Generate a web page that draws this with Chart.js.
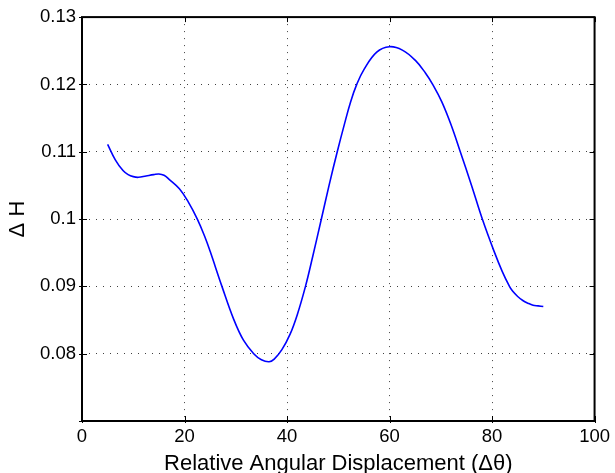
<!DOCTYPE html>
<html>
<head>
<meta charset="utf-8">
<script src="https://cdn.jsdelivr.net/npm/chart.js@4"></script>
<style>
  html, body { margin: 0; padding: 0; background: #fff; }
  #wrap { width: 615px; height: 473px; }
</style>
</head>
<body>
<div id="wrap"><canvas id="plot"></canvas></div>
<script>
// values
const angles = [5, 6.5, 8, 9, 10, 11, 12.5, 14, 15, 16, 17, 19, 20.7, 22.5, 24, 25, 27.3, 29.6, 31.5, 33.5, 35, 36.5, 37.5, 39, 40.6, 42, 43.6, 45, 46.7, 48.2, 49.8, 51.2, 52.4, 53.6, 55, 57.5, 60, 62.5, 65, 67, 68.5, 70.2, 72, 73.8, 76, 78.1, 80.4, 82, 83.4, 84, 85, 86, 87, 88, 89, 90];
const deltaH = [0.1111, 0.1088, 0.1072, 0.1066, 0.1063, 0.1062, 0.1064, 0.1066, 0.1067, 0.1065, 0.1059, 0.1045, 0.1026, 0.1000, 0.0973, 0.0952, 0.0900, 0.0851, 0.0820, 0.0800, 0.0791, 0.0788, 0.0792, 0.0806, 0.0829, 0.0858, 0.0900, 0.0944, 0.1000, 0.1050, 0.1100, 0.1141, 0.1174, 0.1200, 0.1222, 0.1248, 0.1256, 0.1251, 0.1236, 0.1217, 0.1199, 0.1174, 0.1140, 0.1100, 0.1050, 0.1000, 0.0952, 0.0922, 0.0900, 0.0893, 0.0885, 0.0879, 0.0875, 0.0872, 0.0871, 0.0870];
const xTicks = [0, 20, 40, 60, 80, 100];
const yTicks = [0.07, 0.08, 0.09, 0.1, 0.11, 0.12, 0.13];

const tickFont = { family: 'Liberation Sans, Arial, sans-serif', size: 18.5 };
const gridColor = 'rgba(0,0,0,0.75)';
const isEdge = (v, lo, hi) => Math.abs(v - lo) < 1e-6 || Math.abs(v - hi) < 1e-6;

// black box round the plot plus the short tick marks on every side
const boxPlugin = {
  id: 'box',
  afterDraw(chart) {
    const { ctx, chartArea: a, scales } = chart;
    ctx.save();
    ctx.strokeStyle = '#000';
    ctx.lineWidth = 1;
    ctx.beginPath();
    xTicks.forEach(v => {
      const x = Math.round(scales.x.getPixelForValue(v)) + 0.5;
      ctx.moveTo(x, a.bottom + 2); ctx.lineTo(x, a.bottom - 5);
      ctx.moveTo(x, a.top); ctx.lineTo(x, a.top + 5);
    });
    yTicks.forEach(v => {
      const y = Math.round(scales.y.getPixelForValue(v)) + 0.5;
      ctx.moveTo(a.left - 3, y); ctx.lineTo(a.left + 5, y);
      ctx.moveTo(a.right, y); ctx.lineTo(a.right - 5, y);
    });
    ctx.stroke();
    ctx.lineWidth = 2;
    ctx.strokeRect(a.left, a.top, a.right - a.left, a.bottom - a.top);
    ctx.restore();
  }
};

new Chart(document.getElementById('plot'), {
  type: 'line',
  data: {
    datasets: [{
      data: angles.map((a, i) => ({ x: a, y: deltaH[i] })),
      borderColor: '#0000ff',
      borderWidth: 1.6,
      pointRadius: 0,
      tension: 0.4,
      fill: false
    }]
  },
  options: {
    responsive: true,
    maintainAspectRatio: false,
    animation: false,
    layout: { padding: { top: 15, right: 16, left: 0, bottom: 0 } },
    plugins: { legend: { display: false }, tooltip: { enabled: false } },
    scales: {
      x: {
        type: 'linear',
        min: 0,
        max: 100,
        afterFit(scale) { scale.height = 52; },
        afterBuildTicks(scale) { scale.ticks = xTicks.map(v => ({ value: v })); },
        ticks: { color: '#000', font: tickFont, padding: 5, maxRotation: 0 },
        grid: {
          drawTicks: false,
          color: ctx => (ctx.tick && isEdge(ctx.tick.value, 0, 100)) ? 'rgba(0,0,0,0)' : gridColor
        },
        border: { display: false, dash: [1, 6] },
        title: {
          display: true,
          text: 'Relative Angular Displacement (\u0394\u03b8)',
          color: '#000',
          font: { family: 'Liberation Sans, Arial, sans-serif', size: 22, lineHeight: 0.8 },
          padding: { top: 0, bottom: 0 }
        }
      },
      y: {
        type: 'linear',
        min: 0.07,
        max: 0.13,
        afterFit(scale) { scale.width = 82; },
        afterBuildTicks(scale) { scale.ticks = yTicks.map(v => ({ value: v })); },
        ticks: {
          color: '#000',
          font: tickFont,
          padding: 6,
          callback: v => Math.abs(v - 0.07) < 1e-6 ? '' : String(Number(v.toFixed(2)))
        },
        grid: {
          drawTicks: false,
          color: ctx => (ctx.tick && isEdge(ctx.tick.value, 0.07, 0.13)) ? 'rgba(0,0,0,0)' : gridColor
        },
        border: { display: false, dash: [1, 6] },
        title: {
          display: true,
          text: '\u0394 H',
          color: '#000',
          font: { family: 'Liberation Sans, Arial, sans-serif', size: 22 },
          padding: { top: 5, bottom: 5 }
        }
      }
    }
  },
  plugins: [boxPlugin]
});
</script>
</body>
</html>
